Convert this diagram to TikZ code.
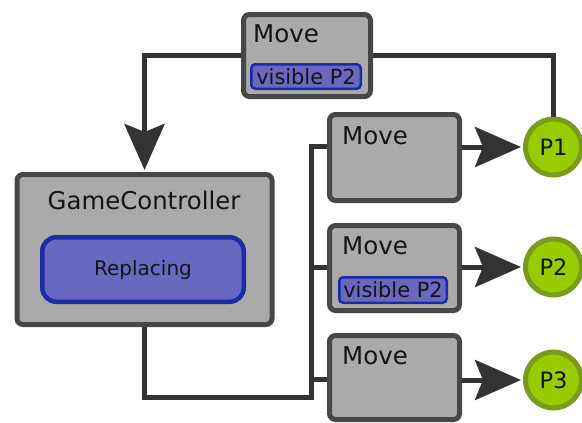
\documentclass[tikz,border=0pt]{standalone}
\usepackage{fontspec}
\setmainfont{DejaVu Sans}
\usetikzlibrary{arrows.meta}
\definecolor{boxfill}{HTML}{AAAAAA}
\definecolor{boxline}{HTML}{474747}
\definecolor{wire}{HTML}{333333}
\definecolor{tagfill}{HTML}{6868C0}
\definecolor{tagline}{HTML}{1A2CA6}
\definecolor{pfill}{HTML}{99CC00}
\definecolor{pline}{HTML}{7A9A1E}
\definecolor{ink}{HTML}{141414}
\tikzset{
  block/.style={draw=boxline, fill=boxfill, line width=5pt, rounded corners=6pt,
    rectangle, inner sep=0pt},
  tag/.style={draw=tagline, fill=tagfill, line width=2.5pt, rounded corners=4pt,
    rectangle, inner sep=0pt, text=ink, font=\fontsize{20.9}{24}\selectfont},
  state/.style={draw=tagline, fill=tagfill, line width=4.5pt, rounded corners=14pt,
    rectangle, inner sep=0pt, text=ink, font=\fontsize{20}{24}\selectfont},
  player/.style={circle, draw=pline, fill=pfill, line width=5pt, minimum size=56pt,
    inner sep=0pt, text=ink, font=\fontsize{22.5}{26}\selectfont},
  title/.style={anchor=base west, inner sep=0pt, text=ink, font=\fontsize{24.5}{29}\selectfont},
  conn/.style={draw=wire, line width=5pt},
  head/.style={-{Stealth[length=46pt, width=40pt, inset=8pt]}, shorten >=2pt}
}
\begin{document}
\begin{tikzpicture}[x=1pt, y=-1pt]
\useasboundingbox (0,0) rectangle (582,423);

% Move box at the top
\node[block, minimum width=127pt, minimum height=82pt] (top) at (307,55.5) {};
\node[title] (toplbl) at (253,42) {Move};
\node[tag, minimum width=109.5pt, minimum height=24.5pt] (toptag) at (306,76.5) {visible P2};

% controller with its state
\node[block, minimum width=255pt, minimum height=150pt] (gc) at (144.5,249.5) {};
\node[anchor=base, inner sep=0pt, text=ink, font=\fontsize{24.4}{29}\selectfont] (gclbl) at (144,209) {GameController};
\node[state, minimum width=201.5pt, minimum height=64.5pt] (rep) at (143,269.5) {Replacing};

% the three moves
\node[block, minimum width=130pt, minimum height=86pt] (m1) at (394.5,157.5) {};
\node[title] (m1lbl) at (342,144) {Move};
\node[block, minimum width=130pt, minimum height=85pt] (m2) at (394.5,268) {};
\node[title] (m2lbl) at (342,254) {Move};
\node[tag, minimum width=107.5pt, minimum height=25.5pt] (m2tag) at (393,290) {visible P2};
\node[block, minimum width=130pt, minimum height=84pt] (m3) at (394.5,377.5) {};
\node[title] (m3lbl) at (342,364) {Move};

% players
\node[player] (p1) at (553.5,147) {P1};
\node[player] (p2) at (553.5,267) {P2};
\node[player] (p3) at (553.5,380) {P3};

% bus points
\coordinate (cb) at (311,397);
\coordinate (j1) at (311,146);
\coordinate (j2) at (311,267);
\coordinate (j3) at (311,379);

% connectors
\draw[conn, head] (top.west) -| (gc.north);
\draw[conn] (top.east) -| (p1.north);
\draw[conn] (gc.south) |- (cb) -- (j1) -- (m1.west |- j1);
\draw[conn] (j2) -- (m2.west |- j2);
\draw[conn] (j3) -- (m3.west |- j3);
\draw[conn, head] (m1.east |- p1) -- (p1.west);
\draw[conn, head] (m2.east |- p2) -- (p2.west);
\draw[conn, head] (m3.east |- p3) -- (p3.west);
\end{tikzpicture}
\end{document}
